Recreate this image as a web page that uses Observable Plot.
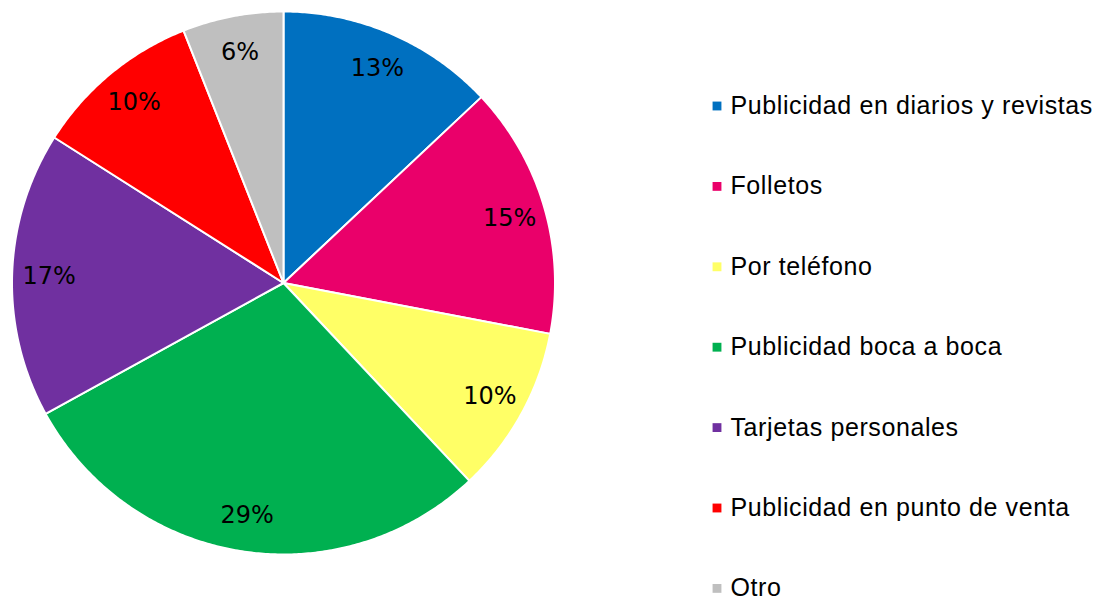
<!DOCTYPE html>
<html>
<head>
<meta charset="utf-8">
<script src="https://cdn.jsdelivr.net/npm/d3@7"></script>
<script src="https://cdn.jsdelivr.net/npm/@observablehq/plot@0.6"></script>
<style>
  html, body { margin: 0; padding: 0; background: #ffffff; }
  #chart svg { display: block; }
  #chart svg g.legend-text text { letter-spacing: 0.6px; }
</style>
</head>
<body>
<div id="chart"></div>
<script>
const categories = [
  "Publicidad en diarios y revistas",
  "Folletos",
  "Por teléfono",
  "Publicidad boca a boca",
  "Tarjetas personales",
  "Publicidad en punto de venta",
  "Otro"
];
const values = [13, 15, 10, 29, 17, 10, 6];
const labels = ["13%", "15%", "10%", "29%", "17%", "10%", "6%"];
const colors = ["#0070C0", "#EA006A", "#FFFF66", "#00B050", "#7030A0", "#FF0000", "#BFBFBF"];

const W = 1106, H = 602;
const cx = 283.5, cy = 283, R = 271.5, labelR = 235;

const total = d3.sum(values);
const slices = [];
const textRows = [];
let acc = 0;
values.forEach((v, i) => {
  const a0 = acc / total * 2 * Math.PI;
  acc += v;
  const a1 = acc / total * 2 * Math.PI;
  const n = Math.max(2, Math.ceil((a1 - a0) / (Math.PI / 360)));
  slices.push({name: categories[i], x: cx, y: cy, cx, cy});
  for (let k = 0; k <= n; k++) {
    const a = a0 + (a1 - a0) * k / n;
    slices.push({name: categories[i], x: cx + R * Math.sin(a), y: cy - R * Math.cos(a), cx, cy});
  }
  slices.push({name: categories[i], x: cx, y: cy, cx, cy});
  const am = (a0 + a1) / 2;
  textRows.push({label: labels[i], x: cx + labelR * Math.sin(am), y: cy - labelR * Math.cos(am)});
});

const legendRows = categories.map((c, i) => ({name: c, x: 716.5, tx: 730, y: 105.5 + i * 80.4}));

const chart = Plot.plot({
  width: W,
  height: H,
  margin: 0,
  x: {domain: [0, W], range: [0, W], axis: null},
  y: {domain: [0, H], range: [0, H], axis: null},
  color: {domain: categories, range: colors},
  style: {background: "#ffffff"},
  marks: [
    Plot.area(slices, {x1: "x", y1: "y", x2: "cx", y2: "cy", z: "name", fill: "name", stroke: "#ffffff", strokeWidth: 2, strokeLinejoin: "round", curve: "linear"}),
    Plot.text(textRows, {x: "x", y: "y", text: "label", fill: "#000000", fontSize: 24, fontFamily: "DejaVu Sans", textAnchor: "middle"}),
    Plot.dot(legendRows, {x: "x", y: "y", symbol: "square", r: 5, fill: "name", stroke: null}),
    Plot.text(legendRows, {x: "tx", y: "y", text: "name", textAnchor: "start", fill: "#000000", fontSize: 25, fontFamily: "Liberation Sans, Arial, sans-serif", className: "legend-text"})
  ]
});
document.getElementById("chart").appendChild(chart);
</script>
</body>
</html>
